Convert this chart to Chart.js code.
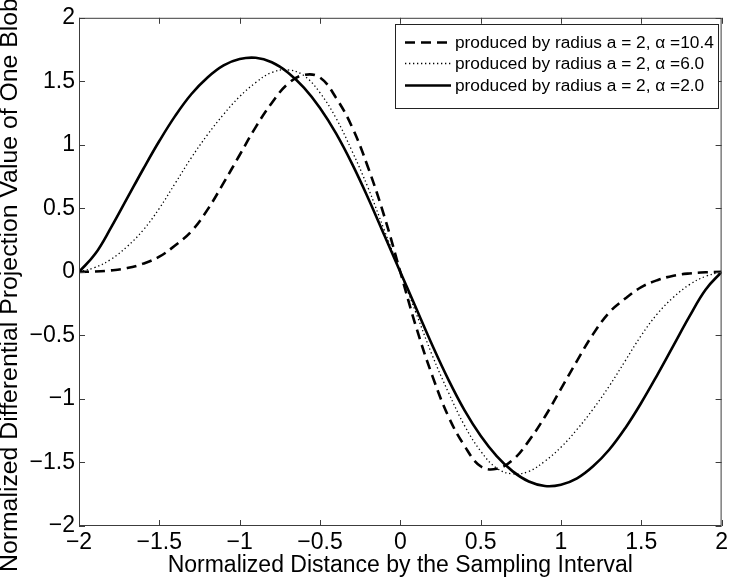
<!DOCTYPE html>
<html>
<head>
<meta charset="utf-8">
<script src="https://cdn.jsdelivr.net/npm/chart.js@4.4.0/dist/chart.umd.min.js"></script>
<style>
  html, body { margin: 0; padding: 0; background: #fff; }
  #wrap { width: 731px; height: 580px; }
</style>
</head>
<body>
<div id="wrap"><canvas id="blobChart" width="731" height="580"></canvas></div>
<script>
// x positions (normalized distance), step 0.1
const xValues = [-2.0, -1.9, -1.8, -1.7, -1.6, -1.5, -1.4, -1.3, -1.2, -1.1, -1.0,
                 -0.9, -0.8, -0.7, -0.6, -0.5, -0.4, -0.3, -0.2, -0.1, 0.0,
                 0.1, 0.2, 0.3, 0.4, 0.5, 0.6, 0.7, 0.8, 0.9, 1.0,
                 1.1, 1.2, 1.3, 1.4, 1.5, 1.6, 1.7, 1.8, 1.9, 2.0];

// alpha = 10.4 (dashed)
const alpha104 = [0, 0.003, 0.012, 0.03, 0.065, 0.12, 0.21, 0.32, 0.49, 0.70, 0.92,
                  1.14, 1.33, 1.48, 1.55, 1.53, 1.37, 1.14, 0.82, 0.44, 0,
                  -0.44, -0.82, -1.14, -1.37, -1.53, -1.55, -1.48, -1.33, -1.14, -0.92,
                  -0.70, -0.49, -0.32, -0.21, -0.12, -0.065, -0.03, -0.012, -0.003, 0];

// alpha = 6.0 (dotted)
const alpha60 = [0, 0.035, 0.10, 0.20, 0.33, 0.50, 0.70, 0.90, 1.08, 1.24, 1.38,
                 1.49, 1.57, 1.59, 1.545, 1.41, 1.21, 0.95, 0.66, 0.33, 0,
                 -0.33, -0.66, -0.95, -1.21, -1.41, -1.545, -1.59, -1.57, -1.49, -1.38,
                 -1.24, -1.08, -0.90, -0.70, -0.50, -0.33, -0.20, -0.10, -0.035, 0];

// alpha = 2.0 (solid)
const alpha20 = [0, 0.14, 0.35, 0.58, 0.81, 1.03, 1.23, 1.40, 1.53, 1.625, 1.675,
                 1.685, 1.65, 1.57, 1.45, 1.29, 1.09, 0.85, 0.58, 0.29, 0,
                 -0.29, -0.58, -0.85, -1.09, -1.29, -1.45, -1.57, -1.65, -1.685, -1.675,
                 -1.625, -1.53, -1.40, -1.23, -1.03, -0.81, -0.58, -0.35, -0.14, 0];

const seriesLabels = [
    'produced by radius a = 2, \u03b1 =10.4',
    'produced by radius a = 2, \u03b1 =6.0',
    'produced by radius a = 2, \u03b1 =2.0'
];
const tickValues = [-2, -1.5, -1, -0.5, 0, 0.5, 1, 1.5, 2];
const xTitle = 'Normalized Distance by the Sampling Interval';
const yTitle = 'Normalized Differential Projection Value of One Blob';

const FONT = 'Liberation Sans, Arial, Helvetica, sans-serif';

function fmtTick(v) {
    return String(v).replace('-', '\u2212');
}

function toPoints(arr) {
    return xValues.map((x, i) => ({ x: x, y: arr[i] }));
}

// MATLAB-style box with inward ticks, y label, and the legend box
const framePlugin = {
    id: 'frame',
    afterDraw(chart) {
        const ctx = chart.ctx;
        const a = chart.chartArea;
        const xs = chart.scales.x, ys = chart.scales.y;
        ctx.save();
        ctx.strokeStyle = '#3c3c3c';
        ctx.lineWidth = 1;
        ctx.strokeRect(a.left + 0.5, a.top + 0.5, a.right - a.left - 1, a.bottom - a.top - 1);
        ctx.beginPath();
        tickValues.forEach(v => {
            const px = Math.round(xs.getPixelForValue(v)) + 0.5;
            ctx.moveTo(px, a.bottom); ctx.lineTo(px, a.bottom - 6);
            ctx.moveTo(px, a.top); ctx.lineTo(px, a.top + 6);
            const py = Math.round(ys.getPixelForValue(v)) + 0.5;
            ctx.moveTo(a.left, py); ctx.lineTo(a.left + 6, py);
            ctx.moveTo(a.right, py); ctx.lineTo(a.right - 6, py);
        });
        ctx.stroke();

        // y label (runs a bit past the axes, as in the original)
        ctx.save();
        ctx.translate(17, 572);
        ctx.rotate(-Math.PI / 2);
        ctx.fillStyle = '#000';
        ctx.font = '24.8px ' + FONT;
        ctx.textAlign = 'left';
        ctx.textBaseline = 'alphabetic';
        ctx.fillText(yTitle, 0, 0);
        ctx.restore();

        // legend
        const lx = 395, ly = 24, lw = 323, lh = 84;
        ctx.fillStyle = '#fff';
        ctx.fillRect(lx, ly, lw, lh);
        ctx.strokeStyle = '#222';
        ctx.strokeRect(lx + 0.5, ly + 0.5, lw, lh);
        const rows = [42, 63, 85];
        chart.data.datasets.forEach((ds, i) => {
            ctx.save();
            ctx.strokeStyle = ds.borderColor;
            ctx.lineWidth = ds.borderWidth;
            ctx.setLineDash(ds.borderDash || []);
            ctx.beginPath();
            ctx.moveTo(405, rows[i] + 0.5);
            ctx.lineTo(451, rows[i] + 0.5);
            ctx.stroke();
            ctx.restore();
            ctx.fillStyle = '#000';
            ctx.font = '17.3px ' + FONT;
            ctx.textBaseline = 'middle';
            ctx.textAlign = 'left';
            ctx.fillText(ds.label, 455, rows[i] + 1);
        });
        ctx.restore();
    }
};

new Chart(document.getElementById('blobChart'), {
    type: 'line',
    data: {
        datasets: [
            {
                label: seriesLabels[0],
                data: toPoints(alpha104),
                borderColor: '#000',
                borderWidth: 2.6,
                borderDash: [10, 6],
                pointRadius: 0,
                tension: 0.4
            },
            {
                label: seriesLabels[1],
                data: toPoints(alpha60),
                borderColor: '#000',
                borderWidth: 1.3,
                borderDash: [1.3, 2.7],
                pointRadius: 0,
                tension: 0.4
            },
            {
                label: seriesLabels[2],
                data: toPoints(alpha20),
                borderColor: '#000',
                borderWidth: 2.6,
                pointRadius: 0,
                tension: 0.4
            }
        ]
    },
    options: {
        responsive: false,
        animation: false,
        devicePixelRatio: 1,
        layout: { padding: { top: 15, right: 6, left: 0, bottom: 0 }, autoPadding: false },
        plugins: { legend: { display: false }, tooltip: { enabled: false } },
        scales: {
            x: {
                type: 'linear',
                min: -2, max: 2,
                afterBuildTicks: s => { s.ticks = tickValues.map(v => ({ value: v })); },
                afterFit: s => { s.height = 54; },
                grid: { display: false, drawTicks: false },
                border: { display: false },
                ticks: {
                    color: '#000',
                    font: { family: FONT, size: 23 },
                    padding: 3,
                    maxRotation: 0,
                    autoSkip: false,
                    callback: v => fmtTick(v)
                },
                title: {
                    display: true,
                    text: xTitle,
                    color: '#000',
                    font: { family: FONT, size: 23, lineHeight: 1 },
                    padding: { top: 0, bottom: 3 }
                }
            },
            y: {
                type: 'linear',
                min: -2, max: 2,
                afterBuildTicks: s => { s.ticks = tickValues.map(v => ({ value: v })); },
                afterFit: s => { s.width = 79; },
                grid: { display: false, drawTicks: false },
                border: { display: false },
                ticks: {
                    color: '#000',
                    font: { family: FONT, size: 23 },
                    padding: 4,
                    autoSkip: false,
                    callback: v => fmtTick(v)
                },
                title: { display: false }
            }
        }
    },
    plugins: [framePlugin]
});
</script>
</body>
</html>
